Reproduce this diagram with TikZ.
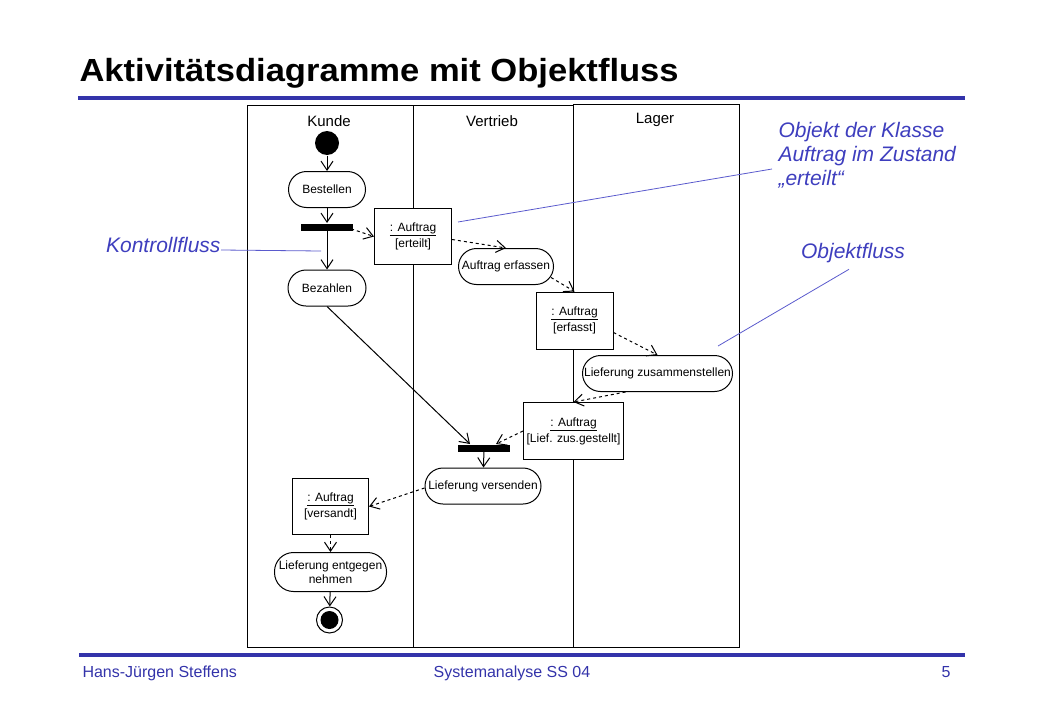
\documentclass[tikz,border=0pt]{standalone}
\usepackage{fontspec}
\setmainfont{Liberation Sans}
\usetikzlibrary{arrows.meta}
\definecolor{folie}{RGB}{51,51,170}
\definecolor{notiz}{RGB}{62,62,190}
\definecolor{notizlinie}{RGB}{90,90,205}

\begin{document}
\begin{tikzpicture}[x=1pt,y=-1pt,line width=1pt,
    act/.style={draw,fill=white,rectangle,rounded corners=18pt,inner sep=0pt,minimum height=36pt,font=\fontsize{12}{14}\selectfont,align=center},
    obj/.style={draw,fill=white,rectangle,inner sep=0pt,minimum width=77pt,minimum height=56pt,font=\fontsize{12}{14}\selectfont,align=center},
    bar/.style={rectangle,fill=black,inner sep=0pt,minimum width=52pt,minimum height=7pt},
    lane/.style={font=\fontsize{15}{18}\selectfont},
    ctrl/.style={-{Straight Barb[length=9pt,width=12pt]}},
    flow/.style={ctrl,dashed},
    note/.style={text=notiz,font=\fontsize{21}{24}\selectfont\itshape,align=left},
    noteline/.style={draw=notizlinie,line width=0.8pt},
    foot/.style={text=folie,font=\fontsize{16}{18}\selectfont}]
    \useasboundingbox (0,0) rectangle (1040,720);

    % Titel und Linien
    \node[anchor=base west,inner sep=0pt,font=\fontsize{32}{36}\selectfont\bfseries] (T) at (79,81.5) {\scalebox{1.08}[1]{Aktivitätsdiagramme mit Objektfluss}};
    \draw[folie,line width=3.5pt] (78,98) -- (965,98);
    \draw[folie,line width=3.5pt] (79,655) -- (965,655);
    \node[foot,anchor=base west,inner sep=0pt] (F1) at (82,677) {Hans-Jürgen Steffens};
    \node[foot,anchor=base,inner sep=0pt] (F2) at (512,677) {Systemanalyse SS 04};
    \node[foot,anchor=base east,inner sep=0pt] (F3) at (951,677) {5};

    % Schwimmbahnen
    \draw (247,105) rectangle (413,647);
    \draw (413,105) rectangle (573,647);
    \draw (573,104) rectangle (739,647);
    \node[lane] (K) at (329,121) {Kunde};
    \node[lane] (V) at (492,121) {Vertrieb};
    \node[lane] (L) at (655,120) {Lager};

    % Knoten
    \node[circle,fill=black,inner sep=0pt,minimum size=24pt] (S) at (327,143) {};
    \node[act,minimum width=77pt] (Be) at (327,189.5) {Bestellen};
    \node[bar] (G1) at (327,227) {};
    \node[act,minimum width=78pt] (Bz) at (327,288) {Bezahlen};
    \node[obj] (O1) at (413,236.5) {\underline{: Auftrag}\\[2pt]{}[erteilt]};
    \node[act,minimum width=95pt] (Ae) at (506,266.5) {Auftrag erfassen};
    \node[obj,minimum height=57pt] (O2) at (574.5,320.5) {\underline{: Auftrag}\\[2pt]{}[erfasst]};
    \node[act,minimum width=150pt] (Lz) at (657.5,373.5) {Lieferung zusammenstellen};
    \node[obj,minimum width=100pt,minimum height=57pt] (O3) at (573.5,431) {\underline{: Auftrag}\\[2pt]{}[Lief. zus.gestellt]};
    \node[bar] (G2) at (484,448) {};
    \node[act,minimum width=116pt] (Lv) at (483,486) {Lieferung versenden};
    \node[obj,minimum width=76pt] (O4) at (330.5,506.5) {\underline{: Auftrag}\\[2pt]{}[versandt]};
    \node[act,minimum width=112pt,minimum height=39pt,rounded corners=19pt] (Le) at (330.5,572) {Lieferung entgegen\\nehmen};
    \node[circle,draw,inner sep=0pt,minimum size=26pt,path picture={\fill (path picture bounding box.center) circle (9pt);}] (E) at (329.5,620) {};

    % Kontrollfluss
    \draw[ctrl] (S) -- (Be);
    \draw[ctrl] (Be) -- (G1);
    \draw[ctrl] (G1) -- (Bz);
    \draw[ctrl] (Bz.south) -- ([xshift=-14pt]G2.north);
    \draw[ctrl] (G2) -- (Lv);
    \draw[ctrl] (Le) -- (E);

    % Objektfluss
    \draw[flow] ([xshift=-8pt]G1.east) -- (O1.west);
    \draw[flow] ([yshift=-3pt]O1.east) -- (Ae.north);
    \draw[flow] ([xshift=-3pt,yshift=-11pt]Ae.east) -- (O2.north);
    \draw[flow] ([yshift=-12pt]O2.east) -- (Lz.north);
    \draw[flow] ([xshift=-32pt]Lz.south) -- (O3.north);
    \draw[flow] (O3.west) -- ([xshift=12pt]G2.north);
    \draw[flow] ([yshift=-2pt]Lv.west) -- (O4.east);
    \draw[flow] (O4) -- (Le);

    % Anmerkungen
    \node[note,anchor=west,inner xsep=6pt,inner ysep=0pt] (N1) at (772,155) {Objekt der Klasse\\Auftrag im Zustand\\„erteilt“};
    \node[note,inner sep=0pt] (N2) at (853,253) {Objektfluss};
    \node[note,anchor=east,inner sep=0pt] (N3) at (221,245) {Kontrollfluss};
    \coordinate (P1) at (458,222);
    \coordinate (P2) at (718,346);
    \coordinate (P3) at (321,251);
    \draw[noteline] ([yshift=-14pt]N1.west) -- (P1);
    \draw[noteline] ([xshift=-4pt,yshift=-6pt]N2.south) -- (P2);
    \draw[noteline] ([yshift=-5pt]N3.east) -- (P3);
\end{tikzpicture}
\end{document}
